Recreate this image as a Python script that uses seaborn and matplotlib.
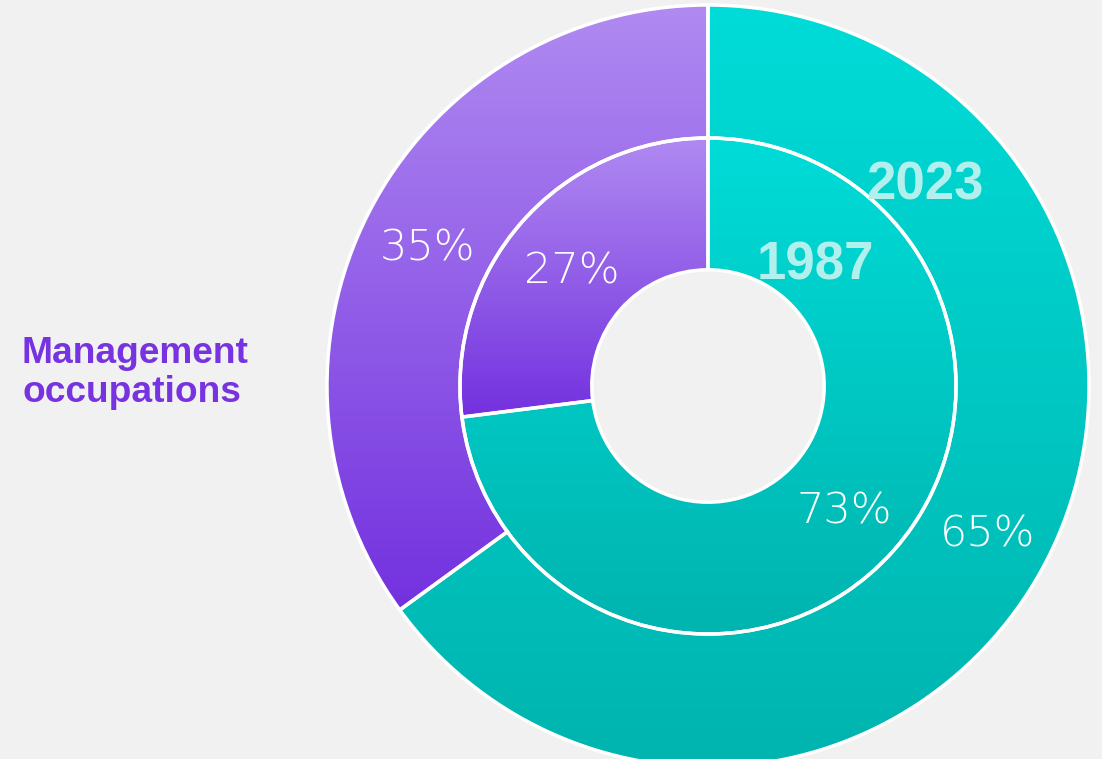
import numpy as np
import matplotlib
matplotlib.use("Agg")
import matplotlib.pyplot as plt
import seaborn as sns

# Data
categories = ["Management occupations", "Other occupations"]
years = ["2023", "1987"]
share_2023 = [35, 65]
share_1987 = [27, 73]

BG = "#f1f1f1"
sns.set_style("white", {"axes.facecolor": BG, "figure.facecolor": BG})

purple_cmap = sns.blend_palette(["#7331df", "#b08af1"], as_cmap=True)
teal_cmap = sns.blend_palette(["#00b4af", "#00dcd8"], as_cmap=True)
cmaps = [purple_cmap, teal_cmap]

W, H = 1102, 759
fig = plt.figure(figsize=(W / 100, H / 100), dpi=100)
fig.patch.set_facecolor(BG)

R = 381
cx, cy = 708, 759 - 386
ax = fig.add_axes([(cx - R) / W, (cy - R) / H, 2 * R / W, 2 * R / H])
ax.set_facecolor(BG)

pct_font = dict(family=["DejaVu Sans"], weight=200, size=31, color="white")

outer_r, outer_w = 1.0, 0.349
inner_r, inner_w = 0.651, 0.346

wo, _, to = ax.pie(share_2023, radius=outer_r, startangle=90, counterclock=True,
                   autopct="%1.0f%%", pctdistance=0.825,
                   wedgeprops=dict(width=outer_w, edgecolor="white", linewidth=2.5),
                   textprops=pct_font)
wi, _, ti = ax.pie(share_1987, radius=inner_r, startangle=90, counterclock=True,
                   autopct="%1.0f%%", pctdistance=0.734,
                   wedgeprops=dict(width=inner_w, edgecolor="white", linewidth=2.5),
                   textprops=pct_font)

grad = np.linspace(0, 1, 256).reshape(-1, 1)
for ring in (wo, wi):
    for w, cmap in zip(ring, cmaps):
        ext = w.get_path().get_extents()
        w.set_facecolor("none")
        w.set_zorder(3)
        im = ax.imshow(grad, cmap=cmap, origin="lower", aspect="auto",
                       extent=(ext.x0, ext.x1, ext.y0, ext.y1), zorder=1,
                       interpolation="bilinear")
        im.set_clip_path(w)
for t in list(to) + list(ti):
    t.set_zorder(5)
    x, y = t.get_position()
    t.set_position((x, y - 5 / R))

year_font = dict(family=["Liberation Sans", "DejaVu Sans"], weight="bold", size=38,
                 color="#b2f0ee", ha="center", va="center", zorder=6)
ax.text(217 / R, 201 / R, years[0], **year_font)
ax.text(107 / R, 121 / R, years[1], **year_font)

ax.set_xlim(-1, 1)
ax.set_ylim(-1, 1)
ax.set_aspect("equal")
ax.axis("off")

fig.text(22 / W, 1 - 373 / H, "Management\noccupations",
         family=["Liberation Sans", "DejaVu Sans"], weight="bold", size=26.7,
         color="#7733e0", ha="left", va="center", linespacing=1.12)

fig.savefig("out.png", dpi=100, facecolor=BG)
